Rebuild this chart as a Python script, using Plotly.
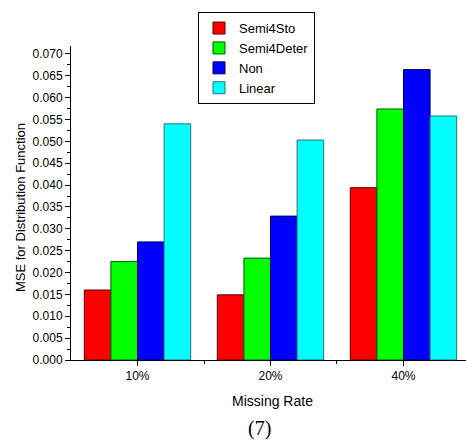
import plotly.graph_objects as go

categories = ["10%", "20%", "40%"]
series_names = ["Semi4Sto", "Semi4Deter", "Non", "Linear"]
semi4sto = [0.0160, 0.0149, 0.0394]
semi4deter = [0.0225, 0.0233, 0.0574]
non = [0.0270, 0.0329, 0.0664]
linear = [0.0540, 0.0503, 0.0558]
yticks = [0.000, 0.005, 0.010, 0.015, 0.020, 0.025, 0.030, 0.035,
          0.040, 0.045, 0.050, 0.055, 0.060, 0.065, 0.070]

colors = ["#ff0000", "#00ff00", "#0000ff", "#00ffff"]
edge = ["#5a0000", "#005a00", "#00005a", "#2f6f6f"]
values = [semi4sto, semi4deter, non, linear]

xpos = list(range(len(categories)))
fig = go.Figure()
for name, vals, c, e in zip(series_names, values, colors, edge):
    fig.add_trace(go.Bar(x=xpos, y=vals, name=name,
                         marker=dict(color=c, line=dict(color=e, width=1))))

font = "Liberation Sans, Arial, sans-serif"
fig.update_layout(
    width=466, height=446,
    margin=dict(l=71, r=0, t=46, b=86),
    paper_bgcolor="white", plot_bgcolor="white",
    barmode="group", bargap=0.2, bargroupgap=0,
    font=dict(family=font, size=12, color="black"),
    showlegend=True,
    legend=dict(x=0.3215, y=1.108, xanchor="left", yanchor="top",
                bordercolor="black", borderwidth=1, bgcolor="white",
                font=dict(size=13, family=font), tracegroupgap=0,
                itemwidth=30),
    xaxis=dict(range=[-0.5, 2.47], tickvals=xpos, ticktext=categories,
               showline=True, linecolor="black", linewidth=1,
               ticks="outside", ticklen=5, tickcolor="black",
               showgrid=False, zeroline=False,
               tickfont=dict(size=12, family=font),
               minor=dict(tickvals=[0.5, 1.5], ticks="outside", ticklen=3,
                          tickcolor="black", showgrid=False)),
    yaxis=dict(range=[0, 0.0718], tickvals=yticks,
               ticktext=[f"{v:.3f}" for v in yticks],
               showline=True, linecolor="black", linewidth=1,
               ticks="outside", ticklen=5, tickcolor="black",
               showgrid=False, zeroline=False,
               tickfont=dict(size=12, family=font),
               minor=dict(dtick=0.0025, tick0=0, ticks="outside", ticklen=3,
                          tickcolor="black", showgrid=False)),
    annotations=[
        dict(text="MSE for Distribution Function", textangle=-90,
             xref="paper", yref="paper", x=-0.129, y=0.484,
             xanchor="center", yanchor="middle", showarrow=False,
             font=dict(size=13, family=font)),
        dict(text="Missing Rate", xref="paper", yref="paper",
             x=0.511, y=-0.1306, xanchor="center", yanchor="middle",
             showarrow=False, font=dict(size=14, family=font)),
        dict(text="(7)", xref="paper", yref="paper",
             x=0.478, y=-0.2166, xanchor="center", yanchor="middle",
             showarrow=False,
             font=dict(size=20, family="Liberation Serif, Times New Roman, serif")),
    ],
)

fig.write_html("out.html")
